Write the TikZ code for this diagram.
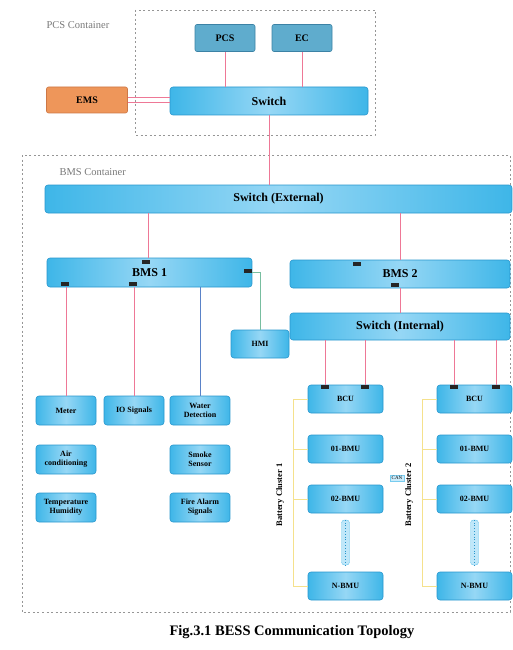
\documentclass[tikz,border=0pt]{standalone}
\usepackage{fontspec}
\setmainfont{Liberation Serif}
\definecolor{boxblue}{RGB}{62,182,232}
\definecolor{boxlight}{RGB}{150,215,245}
\definecolor{boxedge}{RGB}{40,150,205}
\definecolor{pcsfill}{RGB}{95,172,205}
\definecolor{pcsedge}{RGB}{60,130,165}
\definecolor{emsfill}{RGB}{238,150,90}
\definecolor{emsedge}{RGB}{205,120,70}
\definecolor{pinkline}{RGB}{238,120,150}
\definecolor{blueline}{RGB}{90,130,200}
\definecolor{greenline}{RGB}{120,190,160}
\definecolor{yelline}{RGB}{245,225,140}
\definecolor{cont}{RGB}{150,150,150}
\begin{document}
\begin{tikzpicture}[x=1pt,y=-1pt,
  bar/.style={draw=boxedge, line width=0.6pt, rounded corners=3pt,
    left color=boxblue, right color=boxblue, middle color=boxlight,
    font=\bfseries\fontsize{12}{13}\selectfont, align=center, inner sep=1pt},
  sbox/.style={bar, font=\bfseries\fontsize{8}{9}\selectfont, minimum width=60pt, minimum height=29pt},
  cbox/.style={bar, font=\bfseries\fontsize{8}{9}\selectfont, minimum width=75pt, minimum height=28pt},
  pcsbox/.style={draw=pcsedge, fill=pcsfill, rounded corners=2pt, line width=0.6pt,
    font=\bfseries\fontsize{10}{11}\selectfont, minimum width=60pt, minimum height=27pt},
  container/.style={draw=cont, line width=0.7pt, dash pattern=on 2pt off 2.5pt},
  clabel/.style={text=cont!80!black, font=\fontsize{10.5}{12}\selectfont},
  pk/.style={draw=pinkline, line width=0.7pt},
  brk/.style={draw=yelline, line width=0.8pt},
  rlabel/.style={rotate=90, font=\bfseries\fontsize{8.5}{9.5}\selectfont}
]
\useasboundingbox (0,0) rectangle (513,650);

% containers
\draw[container] (135,10) rectangle (375,135);
\node[clabel, anchor=west] (pcsc) at (43,25) {PCS Container};
\draw[container] (22,155) rectangle (510,612);
\node[clabel, anchor=west] (bmsc) at (56,172) {BMS Container};

% PCS container
\node[pcsbox] (pcs) at (225,38) {PCS};
\node[pcsbox] (ec) at (302,38) {EC};
\node[bar, minimum width=198pt, minimum height=28pt] (sw) at (269,101) {Switch};
\node[draw=emsedge, fill=emsfill, rounded corners=2pt, line width=0.6pt,
  font=\bfseries\fontsize{10}{11}\selectfont, minimum width=81pt, minimum height=26pt] (ems) at (87,100) {EMS};

% BMS container
\node[bar, minimum width=467pt, minimum height=28pt] (swe) at (278.5,199) {Switch (External)};
\node[bar, minimum width=205pt, minimum height=29pt] (bms1) at (149.5,272.5) {BMS 1};
\node[bar, minimum width=220pt, minimum height=28pt] (bms2) at (400,274) {BMS 2};
\node[bar, font=\bfseries\fontsize{8}{9}\selectfont, minimum width=58pt, minimum height=28pt] (hmi) at (260,344) {HMI};
\node[bar, minimum width=220pt, minimum height=27pt] (swi) at (400,326.5) {Switch (Internal)};

% peripheral devices
\node[sbox] (meter) at (66,410.5) {Meter};
\node[sbox] (io) at (134,410.5) {IO Signals};
\node[sbox] (water) at (200,410.5) {Water\\Detection};
\node[sbox] (air) at (66,459.5) {Air\\conditioning};
\node[sbox] (smoke) at (200,459.5) {Smoke\\Sensor};
\node[sbox] (temp) at (66,507.5) {Temperature\\Humidity};
\node[sbox] (fire) at (200,507.5) {Fire Alarm\\Signals};

% battery cluster 1
\node[cbox] (bcua) at (345.5,399) {BCU};
\node[cbox] (bmua1) at (345.5,449) {01-BMU};
\node[cbox] (bmua2) at (345.5,499) {02-BMU};
\node[cbox] (bmuan) at (345.5,586) {N-BMU};
\node[draw=boxblue!80, fill=boxlight!60, rounded corners=3pt, minimum width=8pt, minimum height=45pt, inner sep=0pt] (dota) at (345.5,542.5) {};
\draw[boxedge, dotted, line width=0.8pt] (dota.north) -- (dota.south);

% battery cluster 2
\node[cbox] (bcub) at (474.5,399) {BCU};
\node[cbox] (bmub1) at (474.5,449) {01-BMU};
\node[cbox] (bmub2) at (474.5,499) {02-BMU};
\node[cbox] (bmubn) at (474.5,586) {N-BMU};
\node[draw=boxblue!80, fill=boxlight!60, rounded corners=3pt, minimum width=8pt, minimum height=45pt, inner sep=0pt] (dotb) at (474.5,542.5) {};
\draw[boxedge, dotted, line width=0.8pt] (dotb.north) -- (dotb.south);

% CAN tag
\node[draw=boxblue!70, fill=boxlight!50, font=\fontsize{5}{6}\selectfont, inner sep=1.5pt] (can) at (397,478) {CAN};

% brackets
\coordinate (ba1) at (293,399);
\coordinate (ba2) at (293,586);
\draw[brk] (ba1) -- (ba2);
\foreach \n in {bcua,bmua1,bmua2,bmuan} \draw[brk] (\n.west) -- (ba1 |- \n.west);
\node[rlabel] (lba) at (280,495) {Battery Cluster 1};
\coordinate (bb1) at (422,399);
\coordinate (bb2) at (422,586);
\draw[brk] (bb1) -- (bb2);
\foreach \n in {bcub,bmub1,bmub2,bmubn} \draw[brk] (\n.west) -- (bb1 |- \n.west);
\node[rlabel] (lbb) at (409,495) {Battery Cluster 2};

% connectors
\draw[pk] (pcs.south) -- (pcs |- sw.north);
\draw[pk] (ec.south) -- (ec |- sw.north);
\draw[pk] ([yshift=-2.5pt]ems.east) -- ([yshift=-2.5pt]ems.east -| sw.west);
\draw[pk] ([yshift=2.5pt]ems.east) -- ([yshift=2.5pt]ems.east -| sw.west);
\draw[pk] (sw.south) -- (sw.south |- swe.north);
\draw[pk] ([xshift=-130.5pt]swe.south) -- ([xshift=-130.5pt]swe.south |- bms1.north);
\draw[pk] ([xshift=121.5pt]swe.south) -- ([xshift=121.5pt]swe.south |- bms2.north);
\draw[pk] (bms2.south) -- (bms2.south |- swi.north);
\draw[greenline, line width=0.7pt] (bms1.east) -| (hmi.north);
\draw[pk] (meter.north |- bms1.south) -- (meter.north);
\draw[pk] (io.north |- bms1.south) -- (io.north);
\draw[blueline, line width=0.7pt] (water.north |- bms1.south) -- (water.north);
\draw[pk] ([xshift=-20pt]bcua.north |- swi.south) -- ([xshift=-20pt]bcua.north);
\draw[pk] ([xshift=20pt]bcua.north |- swi.south) -- ([xshift=20pt]bcua.north);
\draw[pk] ([xshift=-20pt]bcub.north |- swi.south) -- ([xshift=-20pt]bcub.north);
\draw[pk] ([xshift=22pt]bcub.north |- swi.south) -- ([xshift=22pt]bcub.north);

% ports
\foreach \p in {(65,284),(133,284),(146,262),(248,271),(357,264),(395,285),
  (325,387),(365,387),(454,387),(496,387)}
  \fill[black!85] \p ++(-4,-2) rectangle ++(8,4);

% caption
\node[font=\bfseries\fontsize{14.5}{16}\selectfont] (cap) at (292,632) {Fig.3.1 BESS Communication Topology};
\end{tikzpicture}
\end{document}
